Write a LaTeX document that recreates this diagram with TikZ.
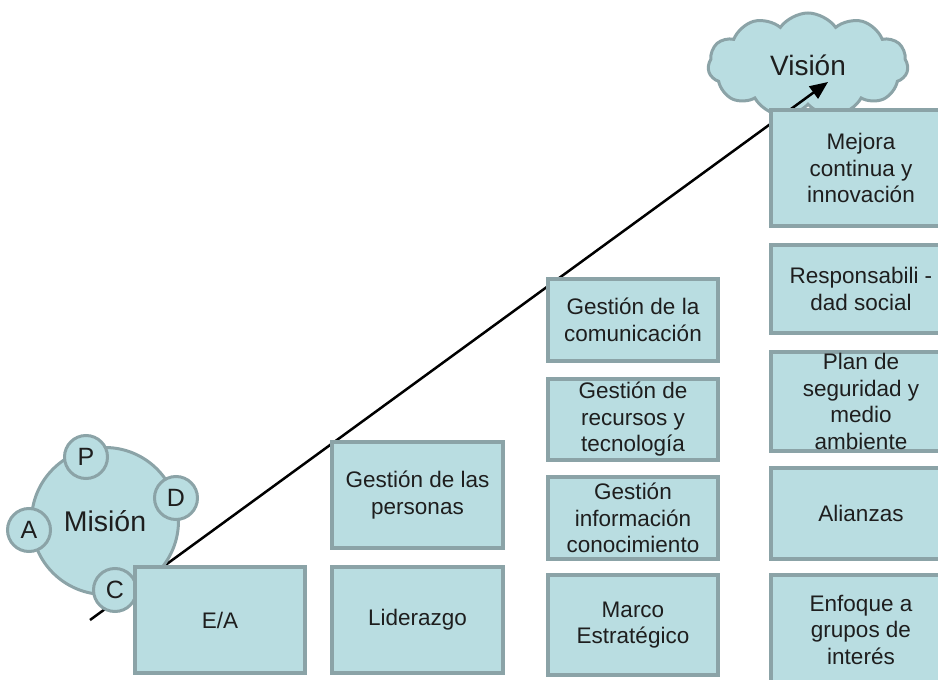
\documentclass[tikz,border=0pt]{standalone}
\usepackage{fontspec}
\setmainfont{Liberation Sans}
\usetikzlibrary{shapes.symbols,arrows.meta}

\definecolor{relleno}{HTML}{B9DDE1}
\definecolor{borde}{HTML}{8BA3A7}
\definecolor{texto}{HTML}{1E1E1E}

\tikzset{
	caja/.style={draw=borde,fill=relleno,line width=4pt,align=center,text=texto,
		inner sep=0pt,minimum width=170pt,font=\fontsize{22.5}{26.5}\selectfont},
	circulo/.style={circle,draw=borde,fill=relleno,line width=3pt,text=texto,inner sep=0pt},
	letra/.style={circulo,minimum size=43pt,font=\fontsize{25}{29}\selectfont},
	flecha/.style={line width=2.5pt,-{Triangle[length=18pt,width=15pt]}}
}

\begin{document}
\begin{tikzpicture}[x=1pt,y=-1pt]
\useasboundingbox (0,0) rectangle (938,680);
\clip (0,0) rectangle (938,680);

\node[cloud,cloud puffs=11,cloud puff arc=110,aspect=2.1,draw=borde,fill=relleno,line width=3pt,
	minimum width=200pt,minimum height=104pt,text=texto,font=\fontsize{28}{32}\selectfont]
	(V) at (808,65) {Visión};

\coordinate (S) at (90,620);
\coordinate (T) at (828,82);
\draw[flecha] (S) -- (T);

% mision
\node[circulo,minimum size=147pt,font=\fontsize{28.5}{32}\selectfont] (M) at (105,521) {Misión};
\node[letra] (P) at (86,457) {P};
\node[letra] (D) at (176,498) {D};
\node[letra] (A) at (29,530) {A};
\node[letra] (C) at (115,590) {C};

% escalones
\node[caja,minimum height=106pt] (EA) at (220,620) {E/A};
\node[caja,minimum width=171pt,minimum height=106pt] (L) at (417.5,620) {Liderazgo};
\node[caja,minimum width=171pt,minimum height=106pt] (GP) at (417.5,495) {Gestión de las\\personas};

\node[caja,minimum height=100pt] (ME) at (633,625) {Marco\\Estratégico};
\node[caja,minimum height=82pt] (GI) at (633,518) {Gestión\\información\\conocimiento};
\node[caja,minimum height=81pt] (GR) at (633,419.5) {Gestión de\\recursos y\\tecnología};
\node[caja,minimum height=82pt] (GC) at (633,320) {Gestión de la\\comunicación};

\node[caja,minimum width=180pt,minimum height=130pt] (EG) at (861,640)
	{\raisebox{50pt}{\begin{tabular}{@{}c@{}}Enfoque a\\grupos de\\interés\end{tabular}}};
\node[caja,minimum width=180pt,minimum height=91pt] (AL) at (861,513.5) {Alianzas};
\node[caja,minimum width=180pt,minimum height=99pt] (PS) at (861,401.5) {Plan de\\seguridad y\\medio\\ambiente};
\node[caja,minimum width=180pt,minimum height=88pt] (RS) at (861,289) {Responsabili -\\dad social};
\node[caja,minimum width=180pt,minimum height=116pt] (MC) at (861,168) {Mejora\\continua y\\innovación};

\end{tikzpicture}
\end{document}
